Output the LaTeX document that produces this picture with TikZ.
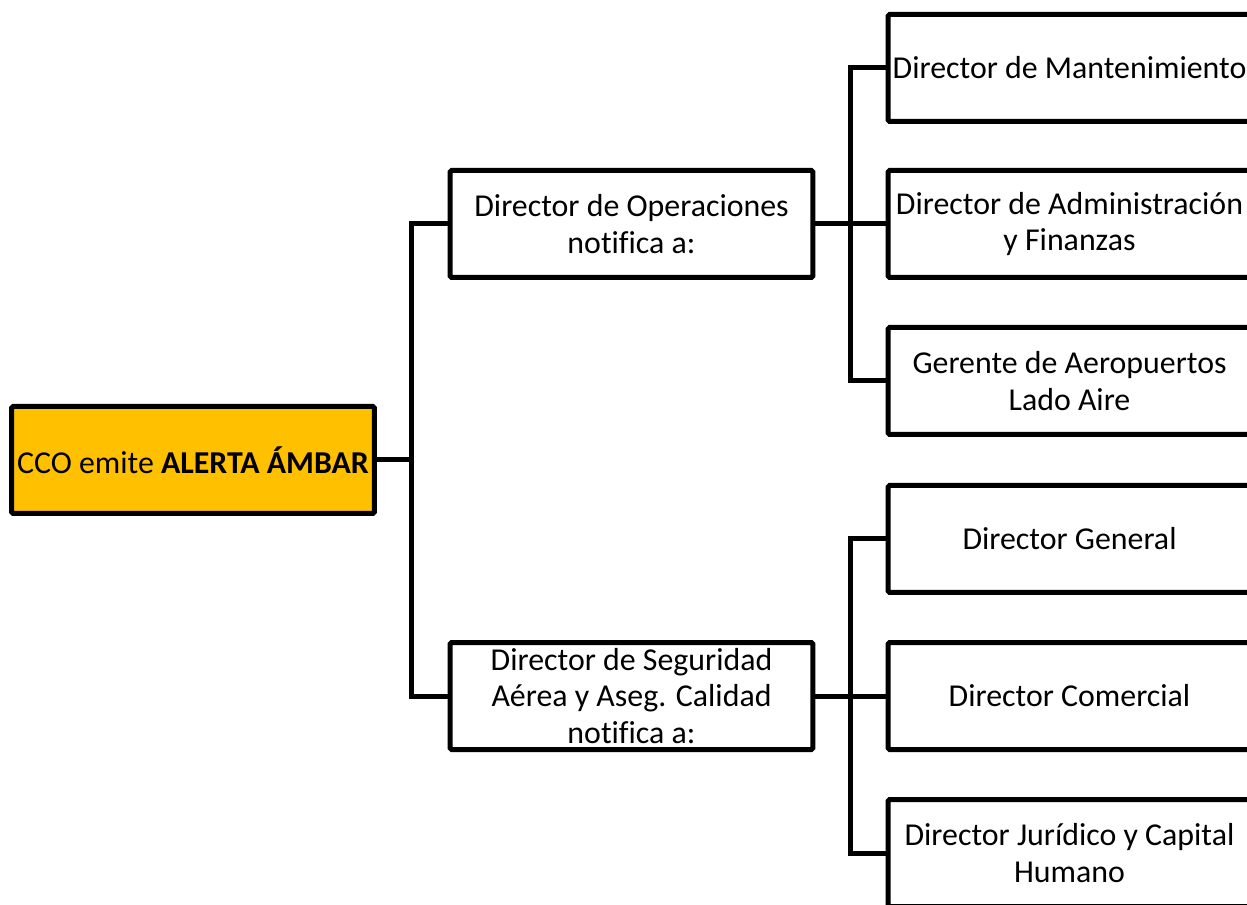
\documentclass[tikz,border=0pt]{standalone}
\usepackage{fontspec}
\setmainfont[Ligatures=NoCommon]{Carlito}
\definecolor{amber}{HTML}{FFC000}
\begin{document}
\begin{tikzpicture}[x=0.75pt,y=-0.75pt,
  box/.style={draw=black,line width=3.75pt,rounded corners=1.2pt,minimum width=272pt,minimum height=80.25pt,inner sep=0pt,align=center,font=\fontsize{23.9pt}{27.2pt}\selectfont},
  link/.style={draw=black,line width=3.75pt,line join=miter}]
\useasboundingbox (0,0) rectangle (1247,905);
\clip (0,0) rectangle (1247,905);
\fill[white] (0,0) rectangle (1247,905);
\node[box,fill=amber] (root) at (193,460) {CCO emite \textbf{ALERTA ÁMBAR}};
\node[box] (ops) at (631.5,224) {Director de Operaciones\\notifica a:};
\node[box] (seg) at (631.5,696) {Director de Seguridad\\Aérea y Aseg. Calidad\\notifica a:};
\node[box] (r1) at (1069.5,68) {Director de Mantenimiento};
\node[box] (r2) at (1069.5,224) {Director de Administración\\y Finanzas};
\node[box] (r3) at (1069.5,381) {Gerente de Aeropuertos\\Lado Aire};
\node[box] (r4) at (1069.5,539) {Director General};
\node[box] (r5) at (1069.5,696) {Director Comercial};
\node[box] (r6) at (1069.5,853) {Director Jurídico y Capital\\Humano};
\draw[link] (root.east) -- ++(35,0) |- (ops.west);
\draw[link] (root.east) -- ++(35,0) |- (seg.west);
\draw[link] (ops.east) -- ++(35,0) |- (r1.west);
\draw[link] (ops.east) -- (r2.west);
\draw[link] (ops.east) -- ++(35,0) |- (r3.west);
\draw[link] (seg.east) -- ++(35,0) |- (r4.west);
\draw[link] (seg.east) -- (r5.west);
\draw[link] (seg.east) -- ++(35,0) |- (r6.west);
\end{tikzpicture}
\end{document}
